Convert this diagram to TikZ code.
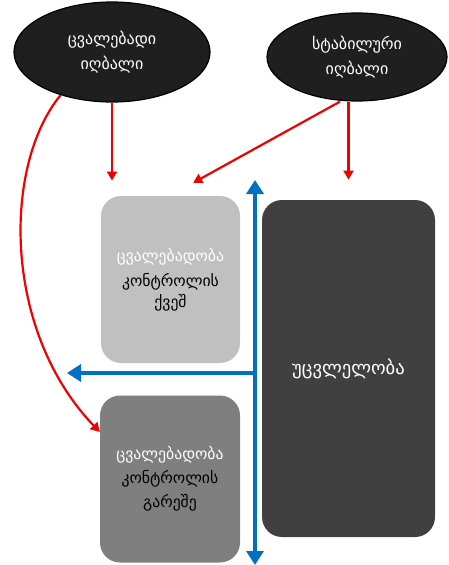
\documentclass[tikz,border=0pt]{standalone}
\usepackage{fontspec}
\setmainfont{DejaVu Sans}
\usetikzlibrary{arrows.meta,calc,shapes.geometric}
\definecolor{myblue}{HTML}{0070C0}
\definecolor{myred}{HTML}{F00000}
\definecolor{lightbox}{HTML}{C0C0C0}
\definecolor{midbox}{HTML}{7F7F7F}
\definecolor{darkbox}{HTML}{404040}
\definecolor{ellfill}{HTML}{1F1F1F}
\tikzset{
  ell/.style={ellipse, draw=black, line width=1.2pt, fill=ellfill, text=white, align=center, font=\fontsize{16}{25}\selectfont, inner sep=0pt},
  rbox/.style={rounded corners=20pt, inner sep=0pt, align=center},
  redarrow/.style={draw=myred, line width=2.2pt, -{Triangle[length=9pt,width=10pt]}},
  bluearrow/.style={draw=myblue, line width=4.5pt, -{Triangle[length=14pt,width=17pt]}},
}
\begin{document}
\begin{tikzpicture}[x=1pt,y=-1pt]
\useasboundingbox (0,0) rectangle (448,565);
\node[ell, minimum width=196pt, minimum height=100pt] (l) at (112,52) {ცვალებადი\\იღბალი};
\node[ell, minimum width=180pt, minimum height=88pt] (r) at (357,57) {სტაბილური\\იღბალი};
\node[rbox, fill=lightbox, minimum width=139pt, minimum height=167pt, font=\fontsize{15.7}{25}\selectfont] (a) at (170.5,279.5)
  {\textcolor{white}{ცვალებადობა}\\კონტროლის\\[-4pt]ქვეშ};
\node[rbox, fill=midbox, minimum width=140pt, minimum height=167pt, font=\fontsize{15.7}{24}\selectfont] (b) at (170,479)
  {\textcolor{white}{ცვალებადობა}\\კონტროლის\\გარეშე};
\node[rbox, fill=darkbox, minimum width=173pt, minimum height=337pt, text=white, font=\fontsize{18.6}{22}\selectfont] (d) at (348.5,368.5) {უცვლელობა};
\coordinate (vtop) at (255,180);
\coordinate (vbot) at (255,565);
\coordinate (hleft) at (67,373);
\coordinate (hmid) at (255,373);
% red arrows
\draw[redarrow] (l.south) -- ++(0,78);
\draw[redarrow] (r.south -| d.north) -- ++(0,78);
\draw[redarrow] ($(r.south)+(-17,0)$) -- ($(a.north east)+(-47,-13)$);
\draw[redarrow] (l.-140) .. controls (3,165) and (2,330) .. (b.west |- 0,432);
% blue arrows
\draw[bluearrow, {Triangle[length=14pt,width=17pt]}-{Triangle[length=14pt,width=17pt]}] (vbot) -- (vtop);
\draw[bluearrow] ($(hmid)+(2.2,0)$) -- (hleft);
\end{tikzpicture}
\end{document}
